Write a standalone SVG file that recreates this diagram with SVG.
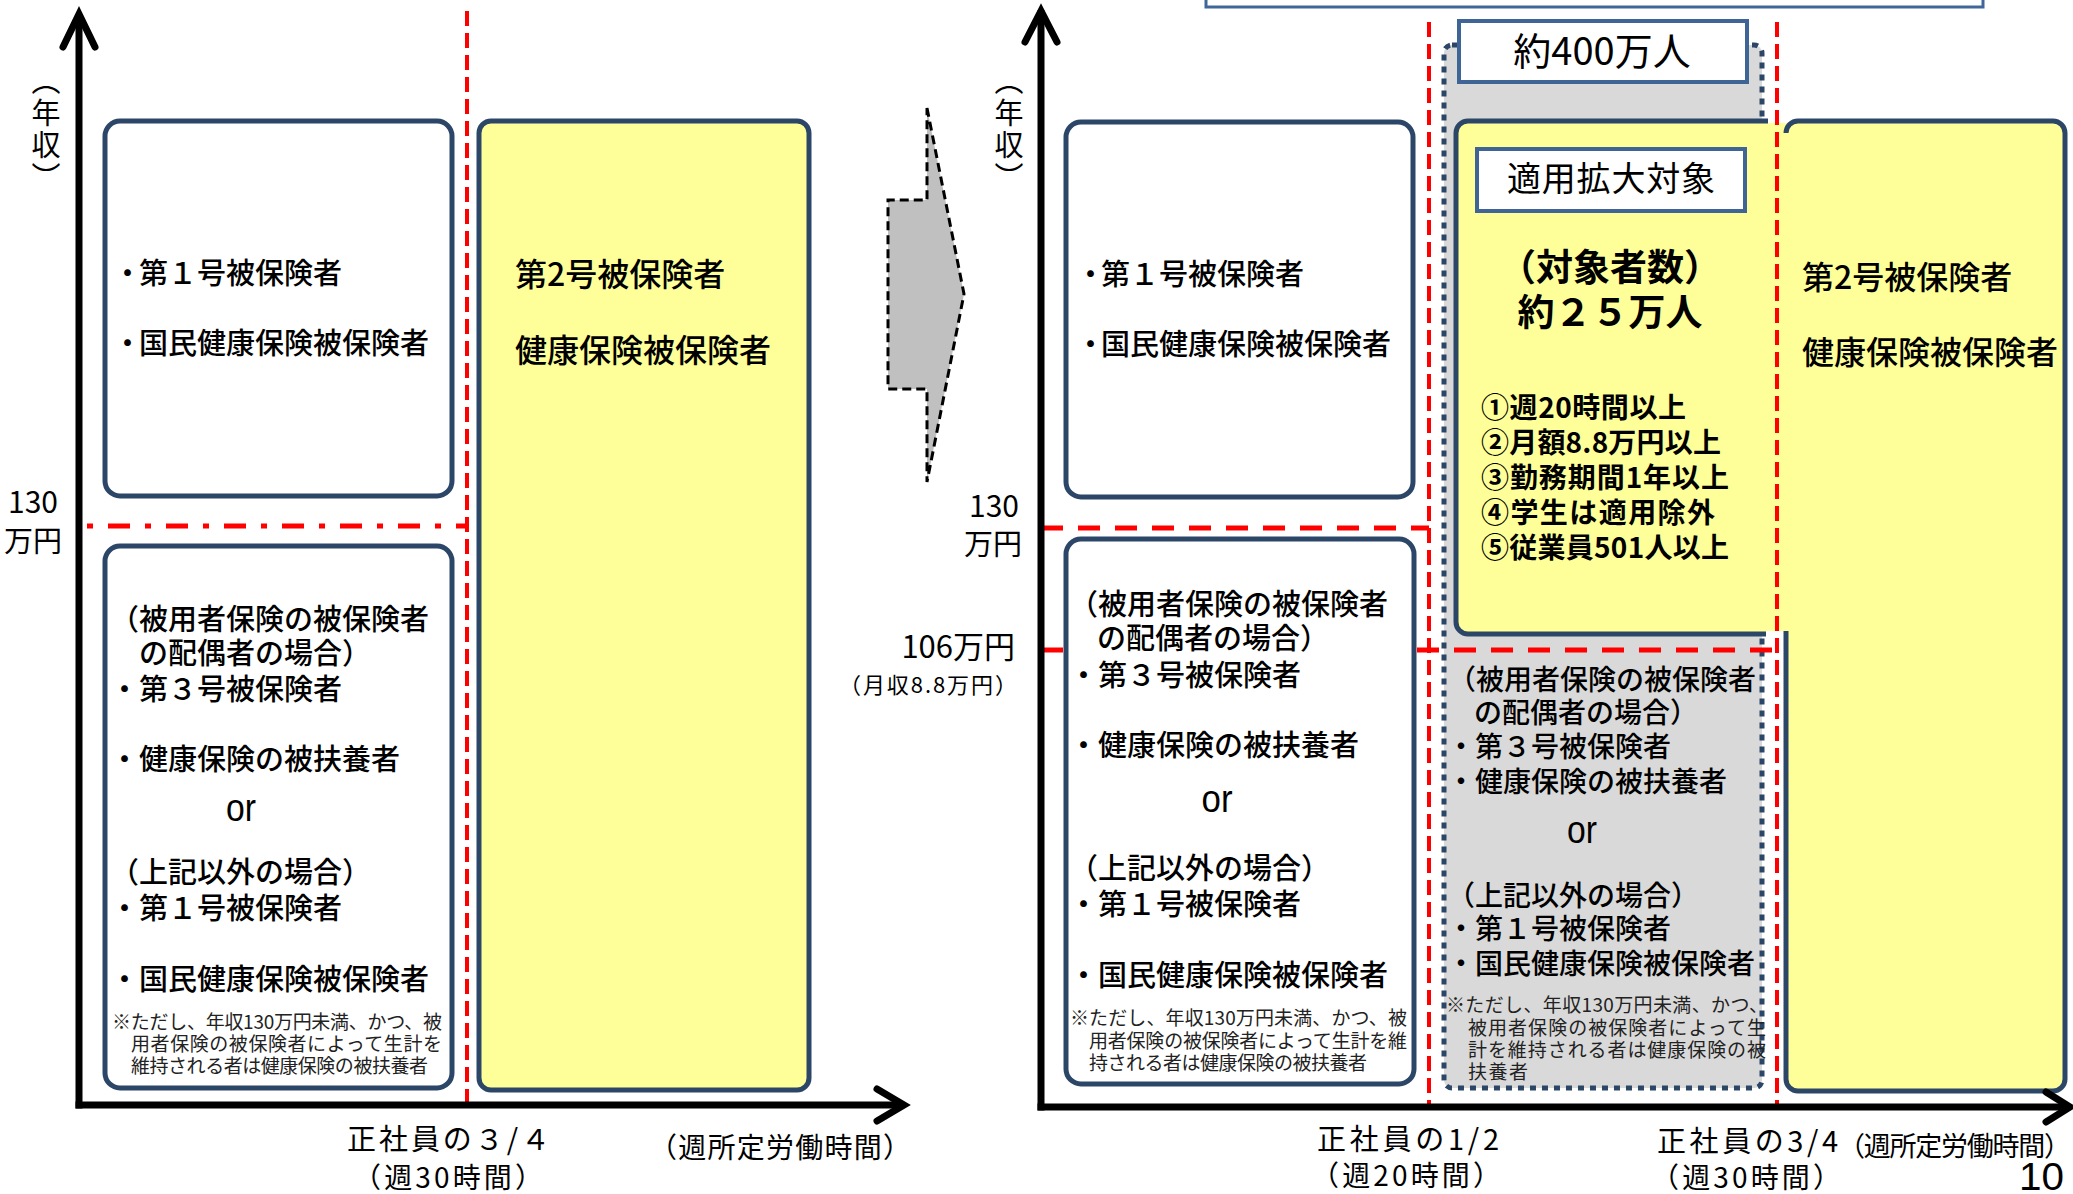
<svg xmlns="http://www.w3.org/2000/svg" width="2073" height="1194" viewBox="0 0 2073 1194">
<defs>
<style>
.box{fill:#fff;stroke:#2C4668;stroke-width:5}
.ybox{fill:#FFFF99;stroke:#2C4668;stroke-width:5}
.lbox{fill:#fff;stroke:#3F6496;stroke-width:4}
.t{font-family:'Noto Sans CJK JP','Noto Sans',sans-serif;fill:#000}
.m{font-weight:500}
.b{font-weight:700}
.s29{font-size:29px}
.s28{font-size:28px}
.note{font-size:19px;fill:#222}
.lat{font-family:'Liberation Sans',Arial,sans-serif}
.vert{writing-mode:vertical-rl;font-size:29px;letter-spacing:3px}
.red{stroke:#FF0000;stroke-width:4;stroke-dasharray:15 7;fill:none}
.redh{stroke:#FF0000;stroke-width:5;stroke-dasharray:22 15;fill:none}
.axis{stroke:#000;stroke-width:7;fill:none;stroke-linecap:square}
.head{stroke:#000;stroke-width:7;fill:none;stroke-linejoin:miter;stroke-linecap:round}
</style>
</defs>
<rect width="2073" height="1194" fill="#fff"/>

<!-- top partial box -->
<g id="top-banner"><rect x="1206" y="-20" width="777" height="27" fill="#fff" stroke="#41679A" stroke-width="3"/></g>

<!-- LEFT PANEL -->
<g id="left-upper">
<rect class="box" x="105" y="121" width="347" height="375" rx="15"/>
<text class="t m s29" y="284"><tspan x="113">・</tspan><tspan x="139">第１号被保険者</tspan></text>
<text class="t m s29" y="354"><tspan x="113">・</tspan><tspan x="139">国民健康保険被保険者</tspan></text>
</g>
<g id="left-lower">
<rect class="box" x="105" y="546" width="347" height="542" rx="15"/>
<text class="t m s29" x="110" y="630">（被用者保険の被保険者</text>
<text class="t m s29" x="139" y="664">の配偶者の場合）</text>
<text class="t m s29" x="110" y="700">・第３号被保険者</text>
<text class="t m s29" x="110" y="770">・健康保険の被扶養者</text>
<text class="t lat" x="241" y="821" font-size="38" text-anchor="middle" textLength="30" lengthAdjust="spacingAndGlyphs">or</text>
<text class="t m s29" x="110" y="883">（上記以外の場合）</text>
<text class="t m s29" x="110" y="919">・第１号被保険者</text>
<text class="t m s29" x="110" y="990">・国民健康保険被保険者</text>
<text class="t note" x="112" y="1029" textLength="330">※ただし、年収130万円未満、かつ、被</text>
<text class="t note" x="131" y="1051" textLength="311">用者保険の被保険者によって生計を</text>
<text class="t note" x="131" y="1073" textLength="297">維持される者は健康保険の被扶養者</text>
</g>
<g id="left-yellow">
<rect class="ybox" x="479" y="121" width="330" height="969" rx="12"/>
<text class="t m" x="515" y="286" font-size="32">第2号被保険者</text>
<text class="t m" x="515" y="362" font-size="32">健康保険被保険者</text>
</g>

<!-- transition arrow -->
<g id="transition-arrow">
<polygon points="927,108 964,294 927,482 927,389 888,389 888,200 927,200" fill="#C0C0C0" stroke="#000" stroke-width="3" stroke-dasharray="9 5"/>
</g>

<!-- RIGHT PANEL -->
<g id="right-upper">
<rect class="box" x="1066" y="122" width="347" height="375" rx="15"/>
<text class="t m s29" y="285"><tspan x="1076">・</tspan><tspan x="1101">第１号被保険者</tspan></text>
<text class="t m s29" y="355"><tspan x="1076">・</tspan><tspan x="1101">国民健康保険被保険者</tspan></text>
</g>
<g id="right-lower">
<rect class="box" x="1066" y="539" width="348" height="545" rx="15"/>
<text class="t m s29" x="1069" y="615">（被用者保険の被保険者</text>
<text class="t m s29" x="1097" y="649">の配偶者の場合）</text>
<text class="t m s29" x="1069" y="686">・第３号被保険者</text>
<text class="t m s29" x="1069" y="756">・健康保険の被扶養者</text>
<text class="t lat" x="1217" y="812" font-size="38" text-anchor="middle" textLength="31" lengthAdjust="spacingAndGlyphs">or</text>
<text class="t m s29" x="1069" y="879">（上記以外の場合）</text>
<text class="t m s29" x="1069" y="915">・第１号被保険者</text>
<text class="t m s29" x="1069" y="986">・国民健康保険被保険者</text>
<text class="t note" x="1070" y="1025" textLength="337">※ただし、年収130万円未満、かつ、被</text>
<text class="t note" x="1089" y="1048" textLength="318">用者保険の被保険者によって生計を維</text>
<text class="t note" x="1089" y="1070" textLength="278">持される者は健康保険の被扶養者</text>
</g>

<g id="about-400">
<rect x="1444" y="45" width="318" height="1043" rx="8" fill="#D9D9D9" stroke="#2C4668" stroke-width="5" stroke-dasharray="6 6"/>
<text class="t m s28" x="1448" y="690">（被用者保険の被保険者</text>
<text class="t m s28" x="1474" y="723">の配偶者の場合）</text>
<text class="t m s28" x="1447" y="757">・第３号被保険者</text>
<text class="t m s28" x="1447" y="792">・健康保険の被扶養者</text>
<text class="t lat" x="1582" y="843" font-size="38" text-anchor="middle" textLength="30" lengthAdjust="spacingAndGlyphs">or</text>
<text class="t m s28" x="1447" y="906">（上記以外の場合）</text>
<text class="t m s28" x="1447" y="939">・第１号被保険者</text>
<text class="t m s28" x="1447" y="974">・国民健康保険被保険者</text>
<text class="t note" x="1446" y="1012" textLength="322">※ただし、年収130万円未満、かつ、</text>
<text class="t note" x="1468" y="1035" textLength="298">被用者保険の被保険者によって生</text>
<text class="t note" x="1468" y="1057" textLength="298">計を維持される者は健康保険の被</text>
<text class="t note" x="1468" y="1079" textLength="60">扶養者</text>
</g>
<g id="label-400">
<rect class="lbox" x="1459" y="21" width="288" height="61"/>
<text class="t" x="1602" y="65" font-size="38" text-anchor="middle">約400万人</text>
</g>

<g id="right-yellow">
<rect x="1760" y="123" width="30" height="508" fill="#FFFF99"/>
<path d="M1786,631 V1079 a12,12 0 0 0 12,12 H2053 a12,12 0 0 0 12,-12 V133 a12,12 0 0 0 -12,-12 H1798 a12,12 0 0 0 -12,12" fill="#FFFF99" stroke="#2C4668" stroke-width="5"/>
<text class="t m" x="1802" y="289" font-size="32">第2号被保険者</text>
<text class="t m" x="1802" y="364" font-size="32">健康保険被保険者</text>
</g>

<g id="expansion-target">
<path d="M1768,121 H1468 a12,12 0 0 0 -12,12 V622 a12,12 0 0 0 12,12 H1766" fill="#FFFF99" stroke="#2C4668" stroke-width="5"/>
<rect class="lbox" x="1477" y="149" width="268" height="62"/>
<text class="t" x="1611" y="191" font-size="34" text-anchor="middle" textLength="208">適用拡大対象</text>
<text class="t b" x="1610" y="281" font-size="37" text-anchor="middle">（対象者数）</text>
<text class="t b" x="1610" y="326" font-size="37" text-anchor="middle">約２５万人</text>
<text class="t b s28" x="1481" y="418" textLength="205">①週20時間以上</text>
<text class="t b s28" x="1481" y="453" textLength="240">②月額8.8万円以上</text>
<text class="t b s28" x="1481" y="488" textLength="248">③勤務期間1年以上</text>
<text class="t b s28" x="1481" y="523" textLength="234">④学生は適用除外</text>
<text class="t b s28" x="1481" y="558" textLength="248">⑤従業員501人以上</text>
</g>

<!-- guide lines and axes -->
<g id="connectors">
<line class="red" x1="467" y1="11" x2="467" y2="1104"/>
<line x1="87" y1="526" x2="467" y2="526" stroke="#FF0000" stroke-width="5" stroke-dasharray="6 15 22 15"/>
<line class="red" x1="1429" y1="22" x2="1429" y2="1106"/>
<line class="red" x1="1777" y1="22" x2="1777" y2="1106"/>
<line class="redh" x1="1041" y1="528" x2="1429" y2="528"/>
<line x1="1041" y1="650" x2="1063" y2="650" stroke="#FF0000" stroke-width="5"/>
<line class="redh" x1="1417" y1="650" x2="1776" y2="650"/>

<line class="axis" x1="79" y1="18" x2="79" y2="1105"/>
<line class="axis" x1="79" y1="1105" x2="900" y2="1105"/>
<polyline class="head" points="63,47 79,14 95,47"/>
<polyline class="head" points="877,1089 904,1105 877,1121"/>

<line class="axis" x1="1041" y1="14" x2="1041" y2="1107"/>
<line class="axis" x1="1041" y1="1107" x2="2066" y2="1107"/>
<polyline class="head" points="1025,42 1041,11 1057,42"/>
<polyline class="head" points="2046,1092 2070,1107 2046,1122"/>
</g>

<!-- axis labels -->
<g id="axis-labels">
<text class="t vert" x="46" y="66">（年収）</text>
<text class="t vert" x="1009" y="66">（年収）</text>

<text class="t" x="33" y="513" font-size="30" text-anchor="middle">130</text>
<text class="t s29" x="33" y="552" text-anchor="middle">万円</text>
<text class="t" x="994" y="517" font-size="30" text-anchor="middle">130</text>
<text class="t s29" x="993" y="555" text-anchor="middle">万円</text>
<text class="t" x="1015" y="658" font-size="31" text-anchor="end">106万円</text>
<text class="t" x="1017" y="693" font-size="22" text-anchor="end" textLength="178">（月収8.8万円）</text>

<text class="t" x="347" y="1150" font-size="29" textLength="203">正社員の３/４</text>
<text class="t" x="448" y="1188" font-size="28" text-anchor="middle" textLength="190">（週30時間）</text>
<text class="t" x="780" y="1158" font-size="28" text-anchor="middle" textLength="262">（週所定労働時間）</text>

<text class="t" x="1317" y="1150" font-size="29" textLength="182">正社員の1/2</text>
<text class="t" x="1406" y="1186" font-size="28" text-anchor="middle" textLength="190">（週20時間）</text>
<text class="t" x="1657" y="1152" font-size="29" textLength="181">正社員の3/4</text>
<text class="t" x="1746" y="1188" font-size="28" text-anchor="middle" textLength="190">（週30時間）</text>
<text class="t" x="1838" y="1156" font-size="27" textLength="233">（週所定労働時間）</text>
<text class="t lat" x="2019" y="1190" font-size="38" textLength="45" lengthAdjust="spacingAndGlyphs">10</text>
</g>
</svg>
